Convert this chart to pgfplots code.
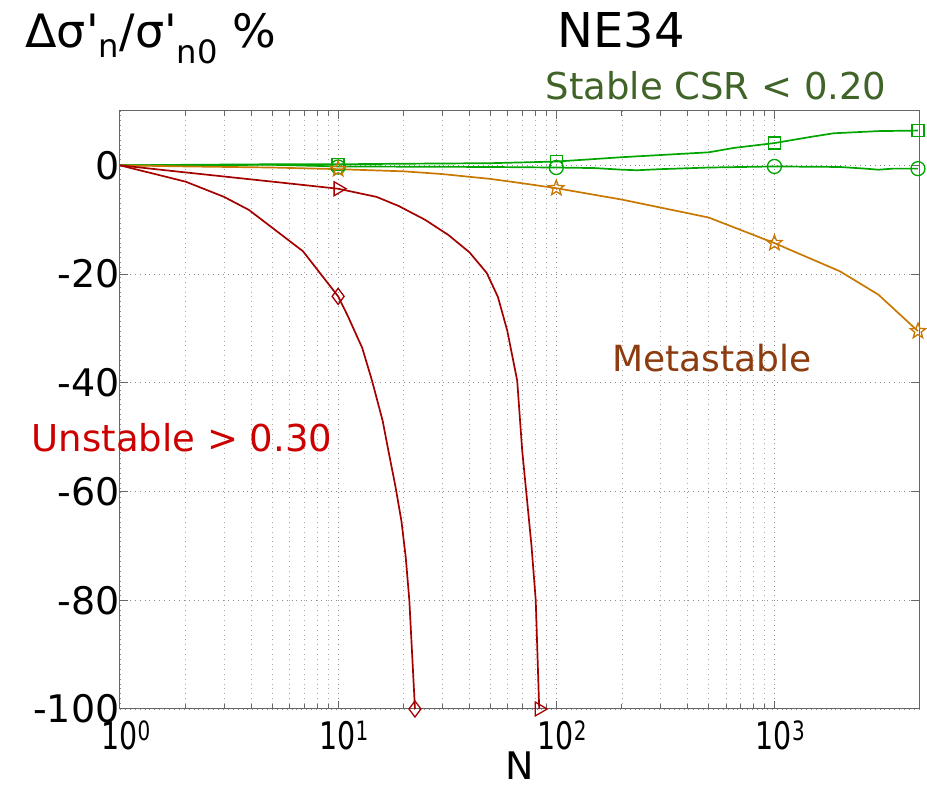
\documentclass[border=0pt]{standalone}
\usepackage{pgfplots}
\pgfplotsset{compat=1.18}
\usepackage{fontspec}
\setmainfont{DejaVu Sans}
\usepackage{graphicx}

\definecolor{cgreen}{RGB}{0,165,0}
\definecolor{corange}{RGB}{200,120,0}
\definecolor{cred}{RGB}{165,0,0}
\definecolor{tstable}{RGB}{64,100,40}
\definecolor{tmeta}{RGB}{140,60,15}
\definecolor{tunst}{RGB}{204,0,0}

\newcommand{\sq}[1]{\scalebox{0.75}[1]{#1}}

\pgfdeclareplotmark{ostar}{%
  \pgfpathmoveto{\pgfpointpolar{90}{\pgfplotmarksize}}%
  \pgfpathlineto{\pgfpointpolar{126}{0.42\pgfplotmarksize}}%
  \pgfpathlineto{\pgfpointpolar{162}{\pgfplotmarksize}}%
  \pgfpathlineto{\pgfpointpolar{198}{0.42\pgfplotmarksize}}%
  \pgfpathlineto{\pgfpointpolar{234}{\pgfplotmarksize}}%
  \pgfpathlineto{\pgfpointpolar{270}{0.42\pgfplotmarksize}}%
  \pgfpathlineto{\pgfpointpolar{306}{\pgfplotmarksize}}%
  \pgfpathlineto{\pgfpointpolar{342}{0.42\pgfplotmarksize}}%
  \pgfpathlineto{\pgfpointpolar{18}{\pgfplotmarksize}}%
  \pgfpathlineto{\pgfpointpolar{54}{0.42\pgfplotmarksize}}%
  \pgfpathclose\pgfusepathqstroke}

\begin{document}
\begin{tikzpicture}
\useasboundingbox (0pt,0pt) rectangle (927pt,792pt);
\begin{axis}[
  at={(120pt,83pt)}, anchor=south west,
  scale only axis, width=799pt, height=598pt,
  xmode=log, xmin=1, xmax=4600, ymin=-100, ymax=10,
  xtick={1,10,100,1000},
  xticklabels={\sq{10\textsuperscript{0}},\sq{10\textsuperscript{1}},\sq{10\textsuperscript{2}},\sq{10\textsuperscript{3}}},
  ytick={-100,-80,-60,-40,-20,0},
  yticklabels={-100,-80,-60,-40,-20,0},
  tick label style={font=\fontsize{38}{40}\selectfont},
  yticklabel style={xshift=3pt},
  xticklabel style={xshift=6pt, yshift=-11pt, inner sep=1pt},
  grid=both,
  major grid style={black!45, line width=0.9pt, dash pattern=on 0.9pt off 4pt},
  minor grid style={black!35, line width=0.9pt, dash pattern=on 0.9pt off 4pt},
  axis line style={black!60, line width=1pt},
  tick style={black!60, line width=1pt},
  major tick length=8pt, minor tick length=5pt,
  tick align=inside,
  clip=false,
  every axis plot/.append style={line width=1.7pt},
]
% Stable (squares)
\addplot[cgreen, no marks] coordinates {
 (1,0) (2,0.1) (5,0.2) (10,0.2) (20,0.3) (50,0.4) (100,0.7) (200,1.5) (300,1.9)
 (500,2.4) (650,3.2) (1000,4.1) (1500,5.3) (1870,5.9) (3000,6.3) (4550,6.4)};
\addplot[cgreen, only marks, mark=square, mark size=6pt, mark options={line width=1.3pt}] coordinates {
 (10,0.2) (100,0.7) (1000,4.1) (4550,6.4)};
% Stable (circles)
\addplot[cgreen, no marks] coordinates {
 (1,0) (5,0.1) (10,-0.2) (50,-0.3) (100,-0.4) (150,-0.5) (200,-0.8) (235,-0.9) (300,-0.7)
 (500,-0.4) (1000,-0.2) (2000,-0.3) (2600,-0.6) (3000,-0.8) (3500,-0.6) (4550,-0.6)};
\addplot[cgreen, only marks, mark=o, mark size=7pt, mark options={line width=1.3pt}] coordinates {
 (10,-0.3) (100,-0.4) (1000,-0.2) (4550,-0.6)};
% Metastable (stars)
\addplot[corange, no marks] coordinates {
 (1,0) (2,-0.2) (5,-0.4) (10,-0.7) (20,-1.1) (30,-1.6) (50,-2.5) (70,-3.3) (100,-4.2)
 (200,-6.3) (500,-9.6) (1000,-14.3) (2000,-19.5) (3000,-23.8) (4550,-30.5)};
\addplot[corange, only marks, mark=ostar, mark size=8pt, mark options={line width=1.3pt}] coordinates {
 (10,-0.7) (100,-4.2) (1000,-14.3) (4550,-30.5)};
% Unstable (triangles)
\addplot[cred, no marks] coordinates {
 (1,0) (2,-1.3) (5,-3.0) (10,-4.3) (15,-5.8) (19,-7.5) (25,-10) (32,-12.8) (40,-16)
 (48,-19.8) (54,-24.2) (59.6,-30.4) (66.2,-39.6) (69.8,-52.5) (73.5,-61.7) (77,-70)
 (80.5,-80) (83.5,-100)};
\addplot[cred, only marks, mark=triangle, mark size=8pt, mark options={rotate=-90, line width=1.3pt}] coordinates {
 (10,-4.3) (83.5,-100)};
% Unstable (diamonds)
\addplot[cred, no marks] coordinates {
 (1,0) (2,-3) (3,-5.8) (3.9,-8.2) (6.9,-15.8) (10,-24.1) (11.1,-27.8) (12.9,-33.6)
 (14.3,-39.6) (16,-47) (17,-52.5) (18.3,-59) (19.5,-65.4) (20.4,-72) (21.2,-80) (22.5,-100)};
\addplot[cred, only marks, mark=diamond, mark size=8pt, mark options={line width=1.3pt}] coordinates {
 (10,-24.1) (22.5,-100)};
\end{axis}
\node[anchor=base, font=\fontsize{46}{48}\selectfont] at (151pt,744pt) {Δσ\textquotesingle\textsubscript{n}/σ\textquotesingle\textsubscript{n0} \%};
\node[anchor=base, font=\fontsize{48}{50}\selectfont] at (621pt,744pt) {NE34};
\node[anchor=base, font=\fontsize{37}{39}\selectfont, text=tstable] at (716pt,692pt) {Stable CSR < 0.20};
\node[anchor=base, font=\fontsize{36}{38}\selectfont, text=tmeta] at (712pt,420pt) {Metastable};
\node[anchor=base, font=\fontsize{37}{39}\selectfont, text=tunst] at (182pt,340pt) {Unstable > 0.30};
\node[anchor=base, font=\fontsize{38}{40}\selectfont, inner sep=1pt] at (520pt,12pt) {N};
\end{tikzpicture}
\end{document}
